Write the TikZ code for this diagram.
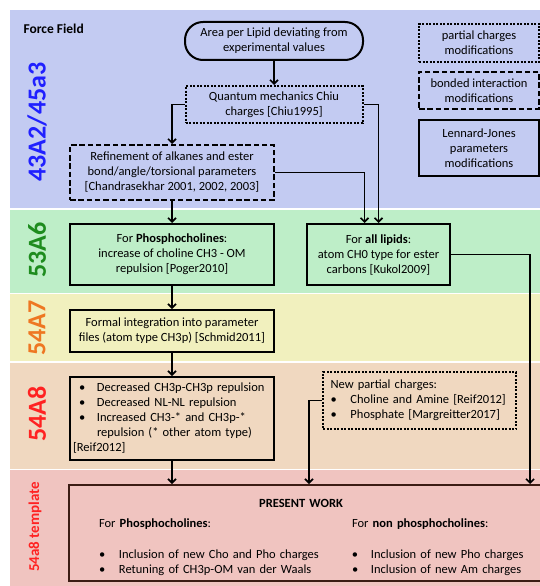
\documentclass[tikz,border=0pt]{standalone}
\usepackage{fontspec}
\setmainfont{Carlito}
\usetikzlibrary{arrows.meta,positioning}
\definecolor{bandblue}{HTML}{C3CBF2}
\definecolor{bandgreen}{HTML}{BEEEC8}
\definecolor{bandyellow}{HTML}{F1F0BE}
\definecolor{bandpeach}{HTML}{F0D8C0}
\definecolor{bandpink}{HTML}{F0C4C0}
\definecolor{lblblue}{HTML}{2020FF}
\definecolor{lblgreen}{HTML}{1E8C1E}
\definecolor{lblorange}{HTML}{EE7722}
\definecolor{lblred}{HTML}{FF2222}
\definecolor{workborder}{HTML}{3C1C14}
\tikzset{
  basebox/.style={draw=black,line width=2pt,align=center,inner sep=3pt,font=\fontsize{12.5}{15}\selectfont},
  dotbox/.style={basebox,dash pattern=on 2pt off 1.5pt},
  dashbox/.style={basebox,dash pattern=on 5.5pt off 2.8pt},
  pillbox/.style={basebox,rounded corners=18pt},
  bandlabel/.style={rotate=90,font=\fontsize{26}{26}\selectfont\bfseries},
  flow/.style={-{Straight Barb[length=4pt,width=8pt]},line width=1.6pt},
}
\newcommand{\ffbullet}[1][18pt]{\makebox[#1][l]{\textbullet}}

\begin{document}
\begin{tikzpicture}[x=1pt,y=-1pt]
  \useasboundingbox (0,0) rectangle (540,586);
  \clip (0,0) rectangle (540,586);
  % bands
  \fill[bandblue] (10,10) rectangle (540,208);
  \fill[bandgreen] (10,209.5) rectangle (540,292.5);
  \fill[bandyellow] (10,294) rectangle (540,361);
  \fill[bandpeach] (10,362.5) rectangle (540,468.5);
  \fill[bandpink] (10,470) rectangle (540,586);

  \node[font=\fontsize{13.5}{13.5}\selectfont\bfseries,anchor=west] (title) at (20,29) {Force Field};
  \node[bandlabel,text=lblblue] (lbl43) at (37,122) {43A2/45a3};
  \node[bandlabel,text=lblgreen] (lbl53) at (37,250) {53A6};
  \node[bandlabel,text=lblorange] (lbl547) at (37,328) {54A7};
  \node[bandlabel,text=lblred] (lbl548) at (37,414) {54A8};
  \node[bandlabel,font=\fontsize{15}{15}\selectfont\bfseries,text=lblred] (lbltmpl) at (35,527) {54a8 template};

  % legend
  \node[dotbox,minimum width=120pt,minimum height=38pt] (legdot) at (479,43)
  {partial charges\\modifications};
  \node[dashbox,minimum width=120pt,minimum height=37pt,below=8pt of legdot] (legdash)
  {bonded interaction\\modifications};
  \node[basebox,minimum width=120pt,minimum height=56pt,below=9pt of legdash] (legsolid)
  {Lennard-Jones\\parameters\\modifications};

  % flow
  \node[pillbox,minimum width=178pt,minimum height=38pt] (area) at (274,41)
  {Area per Lipid deviating from\\experimental values};
  \node[dotbox,minimum width=177pt,minimum height=37pt] (quantum) at (274,104.5)
  {Quantum mechanics Chiu\\charges [Chiu1995]};
  \node[dashbox,minimum width=204pt,minimum height=55pt] (refine) at (172,172.5)
  {Refinement of alkanes and ester\\bond/angle/torsional parameters\\{[Chandrasekhar 2001, 2002, 2003]}};
  \node[basebox,minimum width=204pt,minimum height=61pt,below=22pt of refine] (phospho)
  {For \textbf{Phosphocholines}:\\increase of choline CH3 - OM\\repulsion [Poger2010]};
  \node[basebox,minimum width=143pt,minimum height=61pt,right=31pt of phospho] (lipids)
  {For \textbf{all lipids}:\\atom CH0 type for ester\\carbons [Kukol2009]};
  \node[basebox,minimum width=204pt,minimum height=42pt,below=23pt of phospho] (formal)
  {Formal integration into parameter\\files (atom type CH3p) [Schmid2011]};
  \node[basebox,align=left,text width=198pt,minimum height=83pt,below=23pt of formal] (reif)
  {\hspace*{6pt}\ffbullet Decreased CH3p-CH3p repulsion\\
   \hspace*{6pt}\ffbullet Decreased NL-NL repulsion\\
   \hspace*{6pt}\ffbullet Increased CH3-* and CH3p-*\\
   \hspace*{24pt}repulsion (* other atom type)\\
   {[Reif2012]}};
  \node[dotbox,align=left,text width=178pt,inner xsep=7.5pt,minimum height=57pt] (newq) at (419.5,400.5)
  {New partial charges:\\
   \ffbullet[20pt]Choline and Amine [Reif2012]\\
   \ffbullet[20pt]Phosphate [Margreitter2017]};
  \node[basebox,draw=workborder,anchor=north west,align=left,text width=452pt,inner xsep=30pt,minimum height=96pt] (present) at (68,484)
  {\rule{0pt}{17pt}\makebox[404pt]{\textbf{PRESENT WORK}}\\[5pt]
   \makebox[253pt][l]{For \textbf{Phosphocholines}:}For \textbf{non phosphocholines}:\\[16pt]
   \makebox[253pt][l]{\ffbullet[20pt]Inclusion of new Cho and Pho charges}\ffbullet[19pt]Inclusion of new Pho charges\\
   \makebox[253pt][l]{\ffbullet[20pt]Retuning of CH3p-OM van der Waals}\ffbullet[19pt]Inclusion of new Am charges};

  \draw[flow] (area) -- (quantum);
  \draw[flow] (quantum.west) -| (refine.north);
  \draw[flow] (quantum.east) -| (lipids.north);
  \draw[flow] (refine.east) -| ([xshift=-14pt]lipids.north);
  \draw[flow] (refine) -- (phospho);
  \draw[flow] (phospho) -- (formal);
  \draw[flow] (formal) -- (reif);
  \draw[flow] (reif.south) -- (reif.south |- present.north);
  \draw[flow] (newq.west) -| ([xshift=-16pt]present.north);
  \draw[flow] (lipids.east) -| ([xshift=205pt]present.north);
\end{tikzpicture}
\end{document}
